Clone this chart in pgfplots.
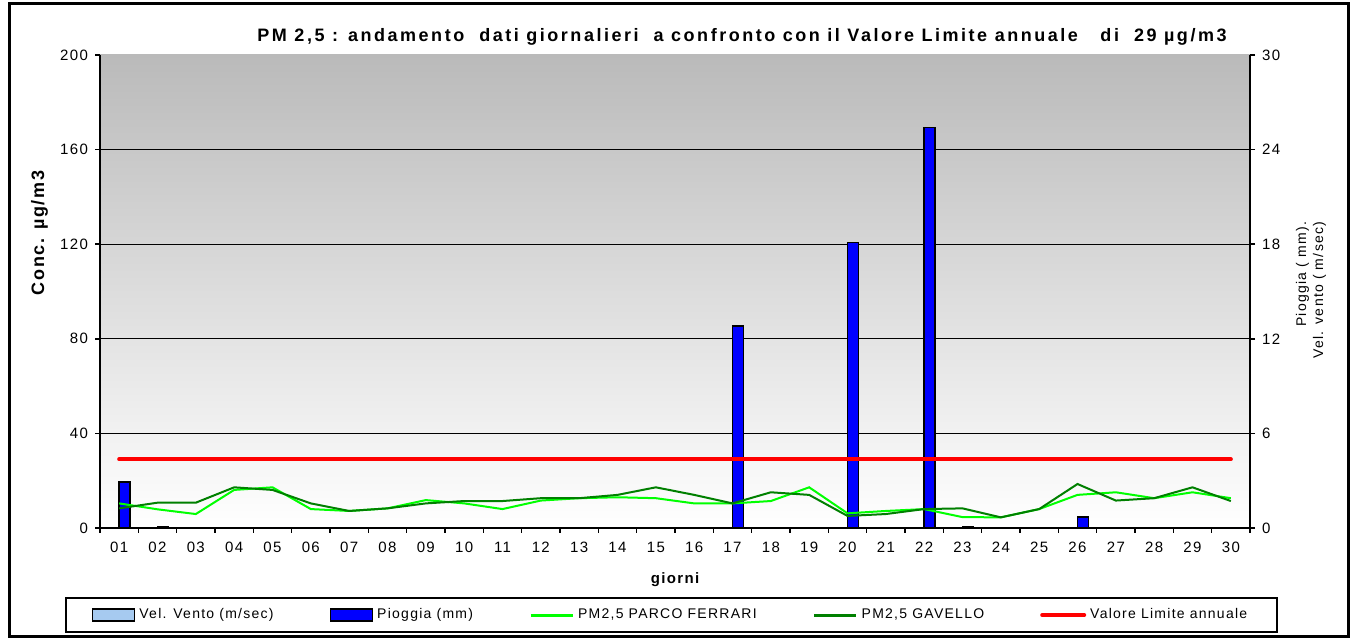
\documentclass[border=0pt]{standalone}
\usepackage{pgfplots}
\pgfplotsset{compat=1.18}
\usepackage{fontspec}
\setmainfont{Liberation Sans}[LetterSpace=9]
\newfontfamily\titlefont{Liberation Sans}[LetterSpace=14]
\definecolor{lgreen}{RGB}{0,255,0}
\definecolor{dgreen}{RGB}{0,128,0}
\definecolor{rainblue}{RGB}{0,0,255}
\definecolor{windblue}{RGB}{166,202,240}
\begin{document}
\begin{tikzpicture}
\path[use as bounding box] (0,0) rectangle (676.5pt,320.5pt);
\pgfplotsset{
  base/.style={
    scale only axis, width=575pt, height=236.5pt,
    at={(50pt,56.5pt)}, anchor=south west,
    xmin=0.5, xmax=30.5,
    /pgf/number format/assume math mode=true,
    tick label style={font=\fontsize{7.5}{8}\selectfont},
    tick align=outside,
    major tick length=2.5pt,
    axis line style={-, line width=1pt},
    every tick/.style={black, line width=0.8pt},
  }
}
% background, grid, left and bottom axes
\begin{axis}[base,
  ymin=0, ymax=200,
  axis background/.style={top color=black!27, bottom color=white},
  axis x line*=bottom, axis y line*=left,
  ytick={0,40,...,200},
  extra y ticks={40,80,120,160}, extra y tick labels={},
  extra y tick style={grid=major, major grid style={black, line width=0.5pt}},
  xtick={0.5,1.5,...,30.5}, xticklabels={},
  extra x ticks={1,...,30},
  extra x tick labels={01,02,03,04,05,06,07,08,09,10,11,12,13,14,15,16,17,18,19,20,21,22,23,24,25,26,27,28,29,30},
  extra x tick style={major tick length=0pt, tick label style={yshift=-3.5pt}},
]
\end{axis}
% rain bars, right axis
\begin{axis}[base,
  ymin=0, ymax=30,
  axis y line*=right, axis x line=none,
  ytick={0,6,...,30},
]
\addplot[ybar, bar width=5.5pt, bar shift=2.75pt, fill=rainblue, draw=black, line width=0.8pt]
coordinates {(1,2.9) (2,0.1) (3,0) (4,0) (5,0) (6,0) (7,0) (8,0) (9,0) (10,0)
 (11,0) (12,0) (13,0) (14,0) (15,0) (16,0) (17,12.8) (18,0) (19,0) (20,18.1)
 (21,0) (22,25.4) (23,0.1) (24,0) (25,0) (26,0.7) (27,0) (28,0) (29,0) (30,0)};
\end{axis}
% PM2.5 lines and legend
\begin{axis}[base,
  ymin=0, ymax=200, hide axis,
  legend columns=5,
  legend cell align=left,
  legend style={at={(0.497,-0.184)}, anchor=center, draw=black, line width=1pt,
    font=\fontsize{7}{8}\selectfont, inner xsep=13pt, inner ysep=3pt,
    /tikz/every even column/.append style={column sep=26pt}},
]
\addlegendimage{legend image code/.code={\draw[fill=windblue, draw=black, line width=0.8pt] (0pt,-3pt) rectangle (21pt,3pt);}}
\addlegendentry{Vel. Vento (m/sec)}
\addlegendimage{legend image code/.code={\draw[fill=rainblue, draw=black, line width=0.8pt] (0pt,-3pt) rectangle (21pt,3pt);}}
\addlegendentry{Pioggia (mm)}
\addplot[lgreen, line width=1pt,
  legend image code/.code={\draw[lgreen, line width=1.5pt] (0pt,0pt) -- (21pt,0pt);}] coordinates {
 (1,10.4) (2,7.9) (3,5.9) (4,16.1) (5,17.2) (6,8.0) (7,7.2) (8,8.3) (9,11.8) (10,10.4)
 (11,8.0) (12,11.6) (13,12.6) (14,13.0) (15,12.6) (16,10.4) (17,10.4) (18,11.4) (19,17.2) (20,6.2)
 (21,7.2) (22,8.0) (23,4.6) (24,4.5) (25,8.0) (26,14.0) (27,15.1) (28,12.6) (29,15.1) (30,12.6)};
\addlegendentry{PM2,5 PARCO FERRARI}
\addplot[dgreen, line width=1pt,
  legend image code/.code={\draw[dgreen, line width=1.5pt] (0pt,0pt) -- (21pt,0pt);}] coordinates {
 (1,8.3) (2,10.7) (3,10.7) (4,17.2) (5,16.1) (6,10.4) (7,7.2) (8,8.3) (9,10.4) (10,11.4)
 (11,11.4) (12,12.6) (13,12.6) (14,14.0) (15,17.2) (16,14.0) (17,10.4) (18,15.1) (19,14.0) (20,5.1)
 (21,5.9) (22,8.0) (23,8.3) (24,4.5) (25,8.0) (26,18.6) (27,11.6) (28,12.6) (29,17.2) (30,11.4)};
\addlegendentry{PM2,5 GAVELLO}
\addplot[red, line width=2pt, line cap=round,
  legend image code/.code={\draw[red, line width=2pt, line cap=round] (0pt,0pt) -- (21pt,0pt);}] coordinates {
 (1,29) (2,29) (3,29) (4,29) (5,29) (6,29) (7,29) (8,29) (9,29) (10,29)
 (11,29) (12,29) (13,29) (14,29) (15,29) (16,29) (17,29) (18,29) (19,29) (20,29)
 (21,29) (22,29) (23,29) (24,29) (25,29) (26,29) (27,29) (28,29) (29,29) (30,29)};
\addlegendentry{Valore Limite annuale}
\end{axis}
% titles and labels
\node[font=\titlefont\bfseries\fontsize{9}{11}\selectfont] at (371pt,302pt)
  {PM 2,5 : andamento\ \ dati giornalieri\ \ a confronto con il Valore Limite annuale\ \ \ di\ \ 29 µg/m3};
\node[font=\bfseries\fontsize{7.5}{9}\selectfont] at (337.5pt,30.5pt) {giorni};
\node[font=\bfseries\fontsize{9}{10}\selectfont, rotate=90] at (19.75pt,204pt) {Conc. µg/m3};
\node[font=\fontsize{7}{8.5}\selectfont, rotate=90, align=right] at (655.5pt,175.5pt)
  {Pioggia ( mm).\\Vel. vento ( m/sec)};
\draw[line width=1.5pt] (4.5pt,2pt) rectangle (674pt,318.5pt);
\end{tikzpicture}
\end{document}
